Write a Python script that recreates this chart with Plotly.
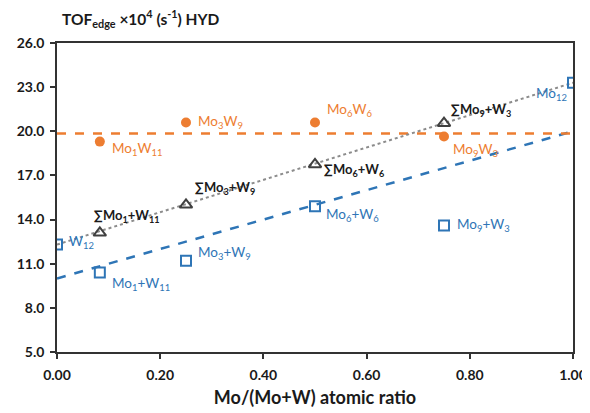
import plotly.graph_objects as go

# ---- data ----
x_ratio = [0.0, 0.083, 0.25, 0.5, 0.75, 1.0]
mix_vals = [12.3, 10.4, 11.2, 14.9, 13.6, 23.3]          # blue squares
mix_labels = ["W<sub>12</sub>", "Mo<sub>1</sub>+W<sub>11</sub>", "Mo<sub>3</sub>+W<sub>9</sub>",
              "Mo<sub>6</sub>+W<sub>6</sub>", "Mo<sub>9</sub>+W<sub>3</sub>", "Mo<sub>12</sub>"]

x_mixed = [0.083, 0.25, 0.5, 0.75]
mixed_vals = [19.3, 20.6, 20.6, 19.65]                    # orange circles
mixed_labels = ["Mo<sub>1</sub>W<sub>11</sub>", "Mo<sub>3</sub>W<sub>9</sub>",
                "Mo<sub>6</sub>W<sub>6</sub>", "Mo<sub>9</sub>W<sub>3</sub>"]

sum_vals = [13.1, 15.0, 17.75, 20.55]                     # black triangles
sum_labels = ["∑Mo<sub>1</sub>+W<sub>11</sub>", "∑Mo<sub>3</sub>+W<sub>9</sub>",
              "∑Mo<sub>6</sub>+W<sub>6</sub>", "∑Mo<sub>9</sub>+W<sub>3</sub>"]

line_x = [0.0, 1.0]
blue_trend = [10.0, 20.0]
orange_trend = [19.85, 19.85]
sum_line = [12.3, 23.3]

x_ticks = [0.0, 0.2, 0.4, 0.6, 0.8, 1.0]
y_ticks = [5.0, 8.0, 11.0, 14.0, 17.0, 20.0, 23.0, 26.0]

# ---- styles ----
BLUE = "#2E75B6"
ORANGE = "#ED7D31"
DARK = "#404040"
FONT = "Lato, 'Open Sans', sans-serif"
W, H, PAGE_PAD = 582, 405, 8

fig = go.Figure()

fig.add_trace(go.Scatter(x=line_x, y=blue_trend, mode="lines",
                         line=dict(color=BLUE, width=2.5, dash="dash"), hoverinfo="skip"))
fig.add_trace(go.Scatter(x=line_x, y=orange_trend, mode="lines",
                         line=dict(color=ORANGE, width=2.5, dash="dash"), hoverinfo="skip"))
fig.add_trace(go.Scatter(x=line_x, y=sum_line, mode="lines",
                         line=dict(color="#8C8C8C", width=2, dash="dot"), hoverinfo="skip"))

fig.add_trace(go.Scatter(x=x_ratio, y=mix_vals, mode="markers",
                         marker=dict(symbol="square-open", size=10, color=BLUE,
                                     line=dict(width=2, color=BLUE))))
fig.add_trace(go.Scatter(x=x_mixed, y=mixed_vals, mode="markers",
                         marker=dict(symbol="circle", size=10, color=ORANGE)))
fig.add_trace(go.Scatter(x=x_mixed, y=sum_vals, mode="markers",
                         marker=dict(symbol="triangle-up-open", size=11, color=DARK,
                                     line=dict(width=2, color=DARK))))

# label offsets (pixels)
mix_off = [(10, 3, "left"), (10, -11, "left"), (10, 8, "left"),
           (9, -9, "left"), (11, 0, "left"), (-4, -11, "right")]
mixed_off = [(10, -7, "left"), (10, 0, "left"), (10, 12, "left"), (7, -14, "left")]
sum_off = [(-8, 17, "left"), (7, 17, "left"), (7, -6, "left"), (5, 13, "left")]

for xv, yv, t, (dx, dy, xa) in zip(x_ratio, mix_vals, mix_labels, mix_off):
    fig.add_annotation(x=xv, y=yv, text=t, showarrow=False, xanchor=xa, yanchor="middle",
                       xshift=dx, yshift=dy, font=dict(family=FONT, size=13.5, color=BLUE))
for xv, yv, t, (dx, dy, xa) in zip(x_mixed, mixed_vals, mixed_labels, mixed_off):
    fig.add_annotation(x=xv, y=yv, text=t, showarrow=False, xanchor=xa, yanchor="middle",
                       xshift=dx, yshift=dy, font=dict(family=FONT, size=13.5, color=ORANGE))
for xv, yv, t, (dx, dy, xa) in zip(x_mixed, sum_vals, sum_labels, sum_off):
    fig.add_annotation(x=xv, y=yv, text="<b>" + t + "</b>", showarrow=False, xanchor=xa,
                       yanchor="middle", xshift=dx, yshift=dy,
                       font=dict(family=FONT, size=13, color="#1A1A1A"))

fig.update_layout(
    width=W, height=H,
    margin=dict(l=57 - PAGE_PAD, r=17, t=43 - PAGE_PAD, b=61, autoexpand=False),
    paper_bgcolor="white", plot_bgcolor="white",
    showlegend=False,
    font=dict(family=FONT, color="#1A1A1A"),
    title=dict(text="<b>TOF<sub>edge</sub> ×10<sup>4</sup> (s<sup>-1</sup>) HYD</b>",
               xref="container", yref="container", x=(62 - PAGE_PAD) / W, xanchor="left",
               y=1 - (19.5 - PAGE_PAD) / H, yanchor="middle",
               font=dict(family=FONT, size=15.5, color="#1A1A1A")),
)

fig.update_xaxes(range=[0, 1], tickvals=x_ticks, ticktext=[f"{v:.2f}" for v in x_ticks],
                 automargin=False, ticklabelstandoff=4,
                 showgrid=False, zeroline=False, showline=True, linecolor="#333333", linewidth=1.5,
                 mirror=True, ticks="outside", ticklen=5, tickcolor="#333333", tickwidth=1.5,
                 tickfont=dict(family=FONT, size=14, color="#1A1A1A", weight="bold"),
                 title=dict(text="<b>Mo/(Mo+W) atomic ratio</b>", standoff=10,
                            font=dict(family=FONT, size=18, color="#1A1A1A")))
fig.update_yaxes(range=[5, 26], tickvals=y_ticks, ticktext=[f"{v:.1f}" for v in y_ticks],
                 automargin=False, ticklabelstandoff=3,
                 showgrid=False, zeroline=False, showline=True, linecolor="#333333", linewidth=1.5,
                 mirror=True, ticks="outside", ticklen=5, tickcolor="#333333", tickwidth=1.5,
                 tickfont=dict(family=FONT, size=14, color="#1A1A1A", weight="bold"))

fig.write_html("out.html")
